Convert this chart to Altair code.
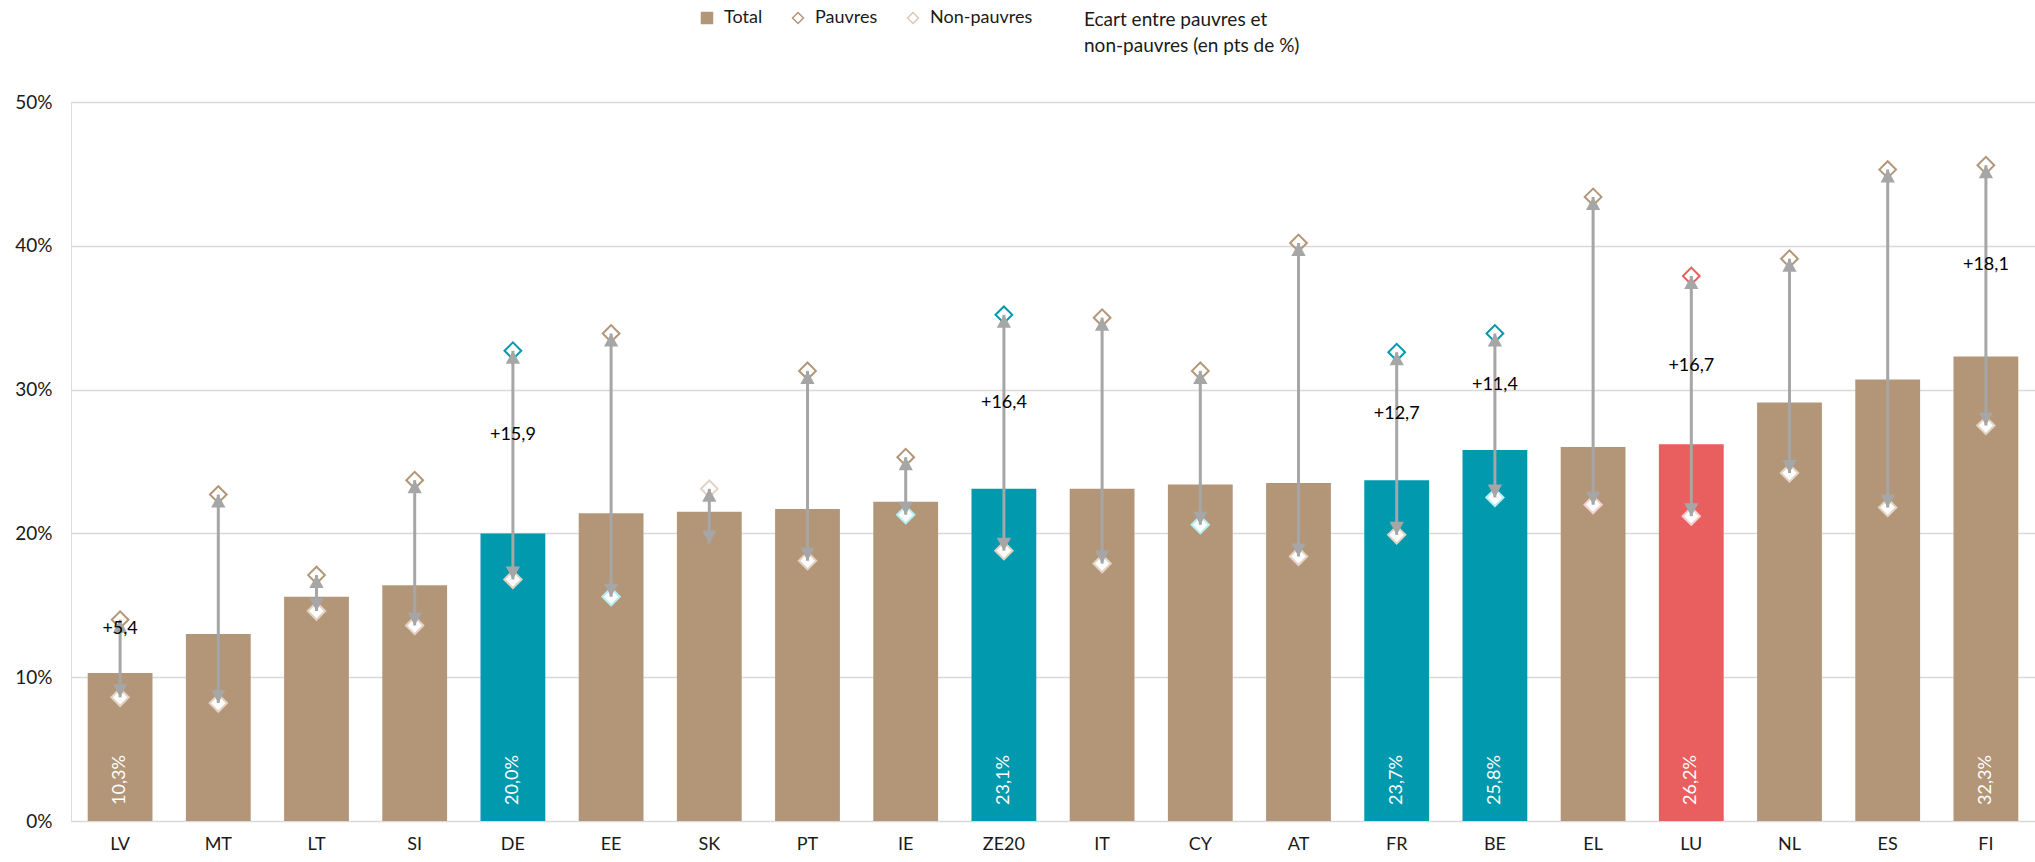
import altair as alt
import pandas as pd

# ---- données ----
pays = ["LV", "MT", "LT", "SI", "DE", "EE", "SK", "PT", "IE", "ZE20",
        "IT", "CY", "AT", "FR", "BE", "EL", "LU", "NL", "ES", "FI"]
total = [10.3, 13.0, 15.6, 16.4, 20.0, 21.4, 21.5, 21.7, 22.2, 23.1,
         23.1, 23.4, 23.5, 23.7, 25.8, 26.0, 26.2, 29.1, 30.7, 32.3]
pauvres = [14.0, 22.7, 17.1, 23.7, 32.7, 33.9, 23.1, 31.3, 25.3, 35.2,
           35.0, 31.3, 40.2, 32.6, 33.9, 43.4, 37.9, 39.1, 45.3, 45.6]
non_pauvres = [8.6, 8.2, 14.6, 13.6, 16.8, 15.6, 19.3, 18.1, 21.3, 18.8,
               17.9, 20.6, 18.4, 19.9, 22.5, 22.0, 21.2, 24.2, 21.8, 27.5]
# catégorie de mise en avant de chaque barre
groupe = ["pays", "pays", "pays", "pays", "zone", "pays", "pays", "pays", "pays", "zone",
          "pays", "pays", "pays", "zone", "zone", "pays", "lu", "pays", "pays", "pays"]
teinte_pauvres = ["pays", "pays", "pays", "pays", "zone", "pays", "pale", "pays", "pays", "zone",
                  "pays", "pays", "pays", "zone", "zone", "pays", "lu", "pays", "pays", "pays"]
teinte_non_pauvres = ["beige", "beige", "beige", "beige", "beige", "cyan", "masque", "beige", "cyan", "beige",
                      "beige", "cyan", "beige", "beige", "cyan", "rose", "rose", "beige", "beige", "beige"]
pays_annotes = ["LV", "DE", "ZE20", "FR", "BE", "LU", "FI"]

series_legende = ["Total", "Pauvres", "Non-pauvres"]
ecart_lignes = ["Ecart entre pauvres et", "non-pauvres (en pts de %)"]

TAN = "#B39677"
TEAL = "#0099AE"
RED = "#E95E5E"
GREY = "#A6A6A6"
FONT = "Lato"
INK = "#1a1a1a"


def fr(v):
    return f"{v:.1f}".replace(".", ",")


df = pd.DataFrame({
    "pays": pays,
    "total": total,
    "pauvres": pauvres,
    "non_pauvres": non_pauvres,
    "groupe": groupe,
    "teinte_p": teinte_pauvres,
    "teinte_np": teinte_non_pauvres,
})
df["affiche"] = df["pays"].isin(pays_annotes)
df["total_txt"] = [fr(v) + "%" for v in total]
df["ecart_txt"] = ["+" + fr(p - n) for p, n in zip(pauvres, non_pauvres)]

x_enc = alt.X(
    "pays:N", sort=pays,
    scale=alt.Scale(paddingInner=0.34, paddingOuter=0.17),
    axis=alt.Axis(title=None, labelAngle=0, domain=False, ticks=False,
                  labelPadding=14, labelFontSize=18, labelColor=INK,
                  labelFont=FONT, grid=False),
)

base = alt.Chart(df).encode(x=x_enc)

bars = base.mark_bar(opacity=1).encode(
    y=alt.Y("total:Q", scale=alt.Scale(domain=[0, 50], nice=False),
            axis=alt.Axis(values=[0, 10, 20, 30, 40, 50], labelExpr="datum.value + '%'",
                          title=None, domain=False, ticks=False, labelPadding=19,
                          labelFontSize=19, labelFont=FONT, labelColor=INK,
                          gridColor="#D9D9D9", gridWidth=1.5)),
    color=alt.Color("groupe:N", scale=alt.Scale(domain=["pays", "zone", "lu"], range=[TAN, TEAL, RED]),
                    legend=None),
)

pts_pauvres = base.mark_point(shape="diamond", filled=False, size=280, strokeWidth=2, opacity=1).encode(
    y="pauvres:Q",
    stroke=alt.Stroke("teinte_p:N",
                      scale=alt.Scale(domain=["pays", "zone", "lu", "pale"],
                                      range=[TAN, TEAL, RED, "#E3D4C6"]),
                      legend=None),
)

pts_non_pauvres = base.mark_point(shape="diamond", filled=True, size=300, strokeWidth=2, opacity=1).encode(
    y="non_pauvres:Q",
    fill=alt.Fill("teinte_np:N",
                  scale=alt.Scale(domain=["beige", "cyan", "rose", "masque"],
                                  range=["white", "white", "white", TAN]),
                  legend=None),
    stroke=alt.Stroke("teinte_np:N",
                      scale=alt.Scale(domain=["beige", "cyan", "rose", "masque"],
                                      range=["#E2D3C4", "#B5F0F8", "#F6CFCF", TAN]),
                      legend=None),
)

tige = base.mark_rule(color=GREY, strokeWidth=3).encode(
    y="non_pauvres:Q", y2="pauvres:Q"
)

fleche_haut = base.mark_point(shape="M0,0L-0.55,1L0.55,1Z", filled=True, size=676,
                              color=GREY, opacity=1).encode(y="pauvres:Q")
fleche_bas = base.mark_point(shape="M0,0L-0.55,-1L0.55,-1Z", filled=True, size=676,
                             color=GREY, opacity=1).encode(y="non_pauvres:Q")

txt_ecart = base.transform_filter("datum.affiche").transform_calculate(
    milieu="(datum.pauvres + datum.non_pauvres) / 2"
).mark_text(dy=-30, fontSize=18, font=FONT, color="black", baseline="middle").encode(
    y="milieu:Q", text="ecart_txt:N"
)

txt_total = base.transform_filter("datum.affiche").mark_text(
    angle=270, align="left", baseline="middle", dx=16, fontSize=18, font=FONT, color="white"
).encode(y=alt.datum(0), text="total_txt:N")

# ---- légende ----
leg = alt.Legend(title=None, orient="none", legendX=627, legendY=-93, direction="horizontal",
                 padding=0, symbolSize=120, symbolStrokeWidth=1.5, labelFontSize=18,
                 labelFont=FONT, labelColor=INK, columnPadding=26, labelOffset=8,
                 labelLimit=400)
leg_df = pd.DataFrame({"serie": series_legende})
legende = alt.Chart(leg_df).transform_filter("false").mark_point(filled=True, opacity=1).encode(
    shape=alt.Shape("serie:N", scale=alt.Scale(domain=series_legende,
                                               range=["square", "diamond", "diamond"]),
                    legend=leg),
    fill=alt.Fill("serie:N", scale=alt.Scale(domain=series_legende,
                                             range=[TAN, "white", "white"]),
                  legend=leg),
    stroke=alt.Stroke("serie:N", scale=alt.Scale(domain=series_legende,
                                                 range=[TAN, TAN, "#DCC8B4"]),
                      legend=leg),
)

# dernière entrée de la légende (sans symbole), sur deux lignes
legende_ecart = alt.Chart(pd.DataFrame({"k": [0]})).mark_text(
    text=ecart_lignes, align="left", baseline="top", lineHeight=26,
    fontSize=19, font=FONT, color=INK,
).encode(x=alt.value(1013), y=alt.value(-91))

chart = alt.layer(
    bars, pts_pauvres, pts_non_pauvres, tige, fleche_haut, fleche_bas, txt_ecart, txt_total,
    legende, legende_ecart
).resolve_scale(
    color="independent", fill="independent", stroke="independent", shape="independent"
).properties(
    width=1964, height=719,
    autosize=alt.AutoSizeParams(type="none"),
    padding={"left": 71, "top": 102, "right": 0, "bottom": 41},
    background="white",
).configure_view(stroke=None).configure(font=FONT)

chart.save("out.html", embed_options={"renderer": "svg", "actions": False})
